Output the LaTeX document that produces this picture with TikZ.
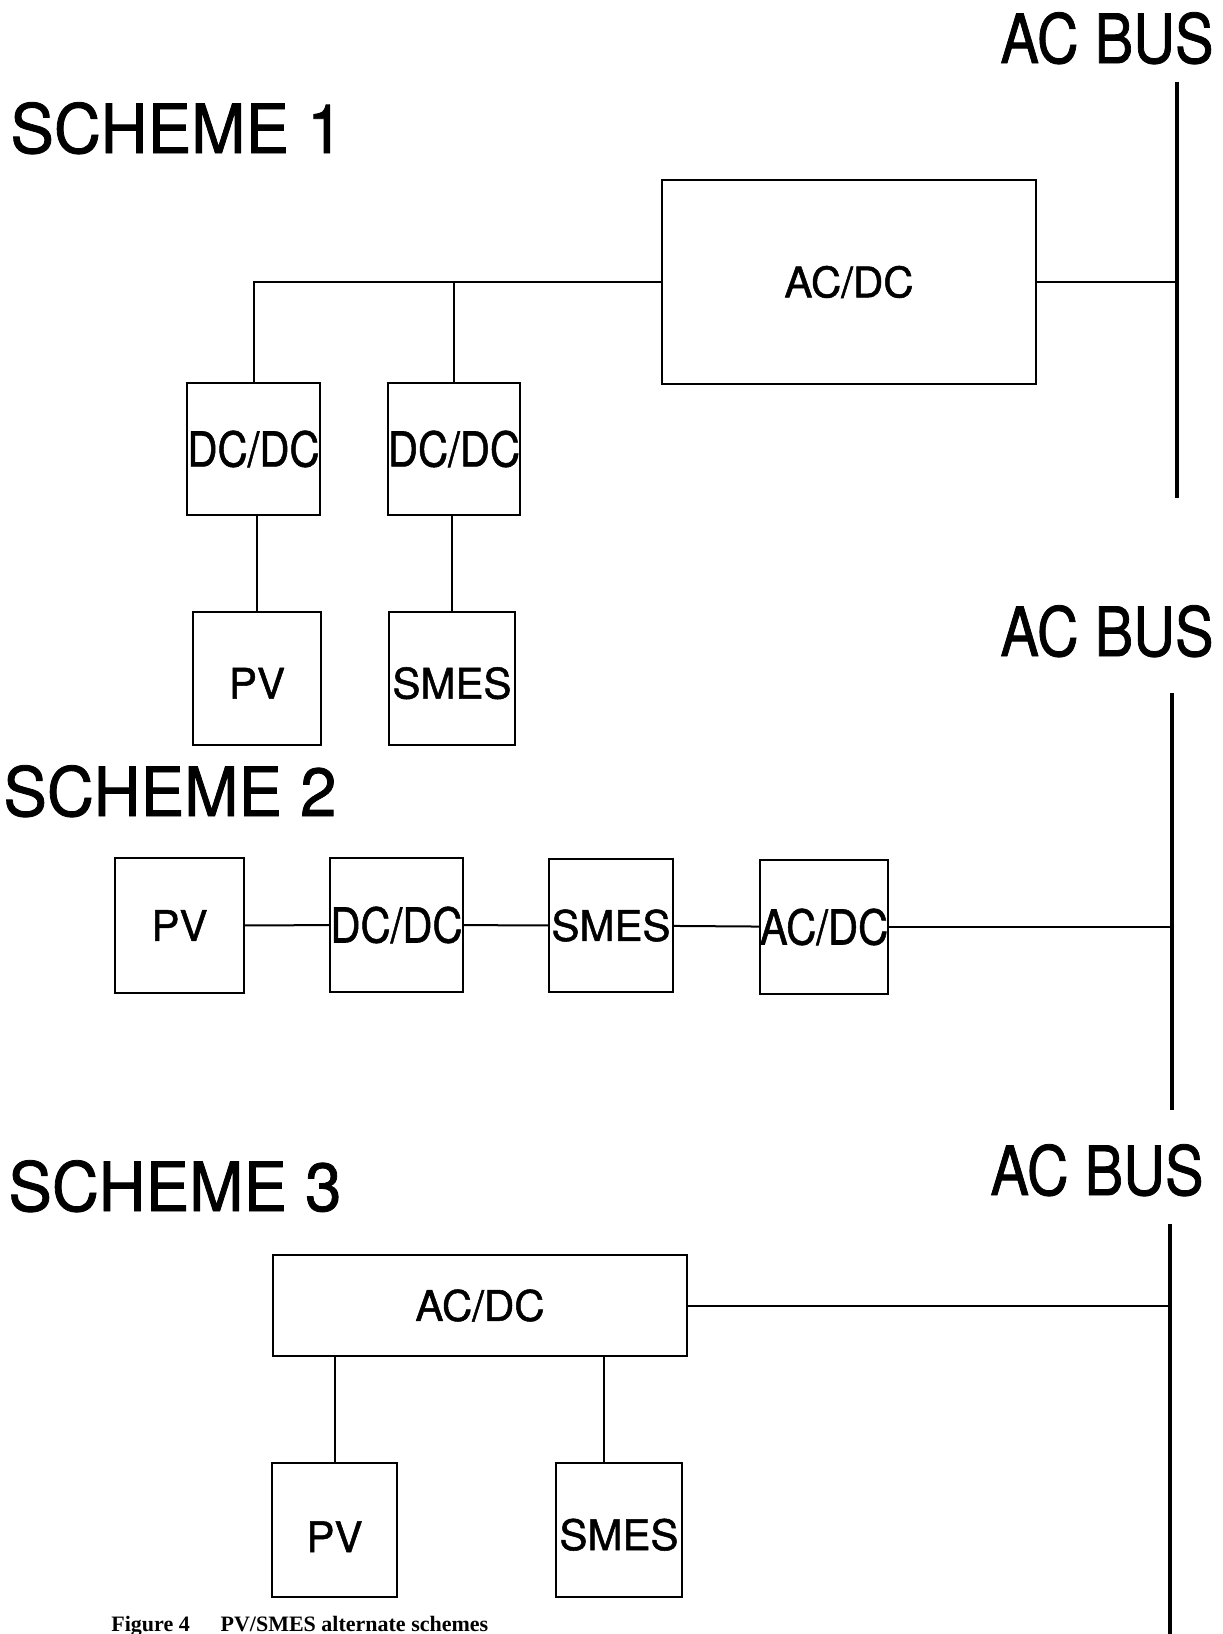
\documentclass[tikz,border=0pt]{standalone}
\usepackage{fontspec}
\setmainfont{Liberation Serif}
\setsansfont[FakeBold=1.2]{TeX Gyre Heros}
\usetikzlibrary{positioning}

% squeeze a label sideways, as the typewritten original does
\newcommand{\narrowtxt}[2][0.87]{\scalebox{#1}[1]{#2}}

\begin{document}
\begin{tikzpicture}[x=0.5pt,y=-0.5pt,
        unit/.style={draw,line width=1pt,inner sep=0pt,font=\sffamily\fontsize{21}{21}\selectfont},
        wide/.style={font=\sffamily\fontsize{24}{24}\selectfont},
        title/.style={anchor=base west,inner sep=0pt,font=\sffamily\fontsize{34}{34}\selectfont},
        link/.style={line width=1pt},
        bus/.style={line width=2pt}
      ]
        \useasboundingbox (0,0) rectangle (1222,1634);
        % SCHEME 1
        \node[title] (sch1) at (10,153) {\narrowtxt[0.96]{SCHEME 1}};
        \node[title] (busA) at (1000,63) {\narrowtxt[0.85]{AC BUS}};
        \coordinate (busAtop) at (1177,82); \coordinate (busAbot) at (1177,498);
        \draw[bus](busAtop)--(busAbot);
        \node[unit,minimum width=187pt,minimum height=102pt] (acdcA) at (849,282) {AC/DC};
        \node[unit,wide,minimum width=64.5pt,minimum height=66pt] (dcdcA) at (253.5,449) {\narrowtxt{DC/DC}};
        \node[unit,wide,minimum width=63pt,minimum height=66pt] (dcdcB) at (454,449) {\narrowtxt{DC/DC}};
        \node[unit,minimum width=64pt,minimum height=66.5pt,text height=20pt,text depth=0pt] (pvA) at (257,678.5) {PV};
        \node[unit,minimum width=63pt,minimum height=66.5pt,text height=20pt,text depth=0pt] (smesA) at (452,678.5) {SMES};
        \draw[link](dcdcA.north)|-(acdcA.west);
        \draw[link](dcdcB.north)--(dcdcB.north|-acdcA.west);
        \draw[link](acdcA.east)--(acdcA.east-|busAtop);
        \draw[link](pvA.north)--(pvA.north|-dcdcA.south);
        \draw[link](smesA.north)--(smesA.north|-dcdcB.south);
        % SCHEME 2
        \node[title] (sch2) at (3,816) {\narrowtxt[0.96]{SCHEME 2}};
        \node[title] (busB) at (1000,656) {\narrowtxt[0.85]{AC BUS}};
        \coordinate (busBtop) at (1172,693); \coordinate (busBbot) at (1172,1110);
        \draw[bus](busBtop)--(busBbot);
        \node[unit,minimum width=64.5pt,minimum height=67.5pt] (pvB) at (179.5,925.5) {PV};
        \node[unit,wide,minimum width=62.5pt,minimum height=67pt] (dcdcC) at (396.5,925) {\narrowtxt{DC/DC}};
        \node[unit,minimum width=62pt,minimum height=66.5pt] (smesB) at (611,925.5) {SMES};
        \node[unit,wide,minimum width=62pt,minimum height=67pt] (acdcB) at (824,927) {\narrowtxt{AC/DC}};
        \draw[link](pvB)--(dcdcC)--(smesB)--(acdcB);
        \draw[link](acdcB.east)--(acdcB.east-|busBtop);
        % SCHEME 3
        \node[title] (sch3) at (8,1211) {\narrowtxt[0.96]{SCHEME 3}};
        \node[title] (busC) at (990,1195) {\narrowtxt[0.85]{AC BUS}};
        \coordinate (busCtop) at (1170,1224); \coordinate (busCbot) at (1170,1634);
        \draw[bus](busCtop)--(busCbot);
        \node[unit,minimum width=207pt,minimum height=50.5pt] (acdcC) at (480,1305.5) {AC/DC};
        \node[unit,minimum width=62.5pt,minimum height=67pt,text height=22pt,text depth=0pt] (pvC) at (334.5,1530) {PV};
        \node[unit,minimum width=63pt,minimum height=67pt,text height=20pt,text depth=0pt] (smesC) at (619,1530) {SMES};
        \draw[link](pvC.north)--(pvC.north|-acdcC.south);
        \draw[link]([xshift=-7.5pt]smesC.north)--++(0,-107);
        \draw[link](acdcC.east)--(acdcC.east-|busCtop);
        % caption
        \node[anchor=base west,inner sep=0pt,font=\rmfamily\bfseries\fontsize{11}{11}\selectfont] (cap) at (111,1631) {Figure 4\hspace{1.4em}PV/SMES alternate schemes};
      \end{tikzpicture}
\end{document}
